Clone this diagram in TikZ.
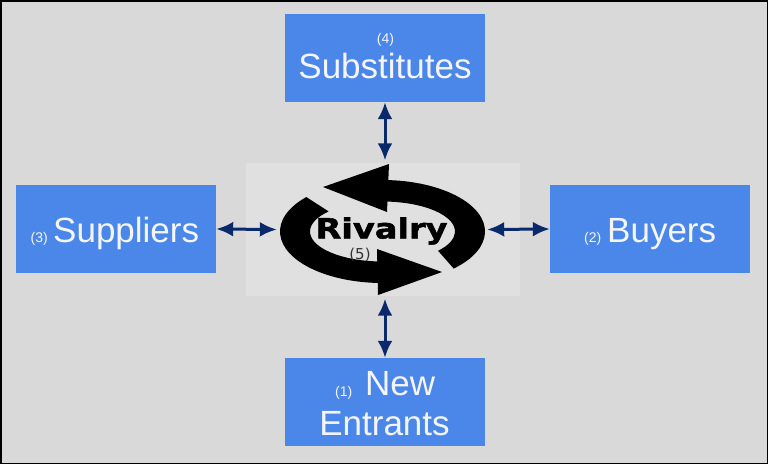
\documentclass[tikz,border=0pt]{standalone}
\usepackage{fontspec}
\usepackage{graphicx}
\newfontfamily\arialfont{Liberation Sans}
\newfontfamily\rivfont{DejaVu Sans}[BoldFeatures={FakeBold=1.5}]
\usetikzlibrary{arrows.meta}

\begin{document}
\begin{tikzpicture}[x=1pt, y=-1pt,
    forcebox/.style={fill=boxblue, minimum width=200pt, minimum height=88pt, inner sep=0pt},
    bigtxt/.style={text=boxtext, font=\arialfont\fontsize{35}{40}\selectfont, inner sep=0pt},
    numtxt/.style={text=boxtext, font=\arialfont\fontsize{14}{16}\selectfont, inner sep=0pt},
    link/.style={{Latex[length=17pt,width=15pt]}-{Latex[length=17pt,width=15pt]}, draw=navy, fill=navy, line width=3pt},
    ring/.style={fill=black}]

\definecolor{bgray}{rgb}{0.85,0.85,0.85}
\definecolor{lgray}{rgb}{0.88,0.88,0.88}
\definecolor{boxblue}{rgb}{0.29,0.53,0.91}
\definecolor{boxtext}{rgb}{0.96,0.96,0.97}
\definecolor{navy}{rgb}{0.04,0.16,0.42}
\definecolor{dgray}{rgb}{0.2,0.2,0.2}

% canvas
\fill[bgray] (0,0) rectangle (768,464);
\useasboundingbox (0,0) rectangle (768,464);
\fill[lgray] (246,163) rectangle (520,296);

% the four forces
\node[forcebox] (subs) at (385,58) {};
\node[forcebox] (supp) at (116,229) {};
\node[forcebox] (buy) at (650,229) {};
\node[forcebox] (newent) at (385,402) {};

\node[numtxt, anchor=base] (n4) at (385.5,43.5) {(4)};
\node[bigtxt, anchor=base] (subslab) at (385,78) {Substitutes};
\node[numtxt, anchor=base east] (n3) at (48,242) {(3)};
\node[bigtxt, anchor=base west] (supplab) at (53,242) {Suppliers};
\node[numtxt, anchor=base west] (n2) at (584,242) {(2)};
\node[bigtxt, anchor=base west] (buylab) at (607,242) {Buyers};
\node[numtxt, anchor=base west] (n1) at (335,396) {(1)};
\node[bigtxt, anchor=base west] (newlab) at (365,395) {New};
\node[bigtxt, anchor=base] (entlab) at (384.5,435) {Entrants};

% rivalry symbol
\coordinate (rc) at (382.5,231.5);
\node[minimum width=210pt, minimum height=138pt, inner sep=0pt] (riv) at (382,229.5) {};
\fill[ring] ([shift={(rc)}]46:102.5 and 51.5) arc[start angle=46, end angle=-93, x radius=102.5, y radius=51.5]
  -- ([shift={(rc)}]-88:72.5 and 30) arc[start angle=-88, end angle=40, x radius=72.5, y radius=30] -- cycle;
\fill[ring] (389,164) -- (323,187) -- (387,212) -- cycle;
\fill[ring] ([shift={(rc)}]222:102.5 and 51.5) arc[start angle=222, end angle=87, x radius=102.5, y radius=51.5]
  -- ([shift={(rc)}]92:72.5 and 30) arc[start angle=92, end angle=222, x radius=72.5, y radius=30] -- cycle;
\fill[ring] (377,249) -- (442,272) -- (378,295) -- cycle;
\node[anchor=base, inner sep=0pt, font=\rivfont\bfseries\fontsize{28}{28}\selectfont] (rivtxt) at (381.5,238.5) {\scalebox{1.2}[1]{Rivalry}};
\node[anchor=base, inner sep=0pt, text=dgray, font=\rivfont\fontsize{15}{15}\selectfont] (n5) at (360,259.5) {(5)};

% links
\draw[link] (subs.south) -- (subs.south |- riv.north);
\draw[link] (newent.north) -- (newent.north |- riv.south);
\draw[link] (supp.east) -- (riv.west);
\draw[link] (buy.west) -- (riv.east);

\draw[line width=1.5pt] (0.75,0.75) rectangle (767.25,463.25);
\end{tikzpicture}
\end{document}
